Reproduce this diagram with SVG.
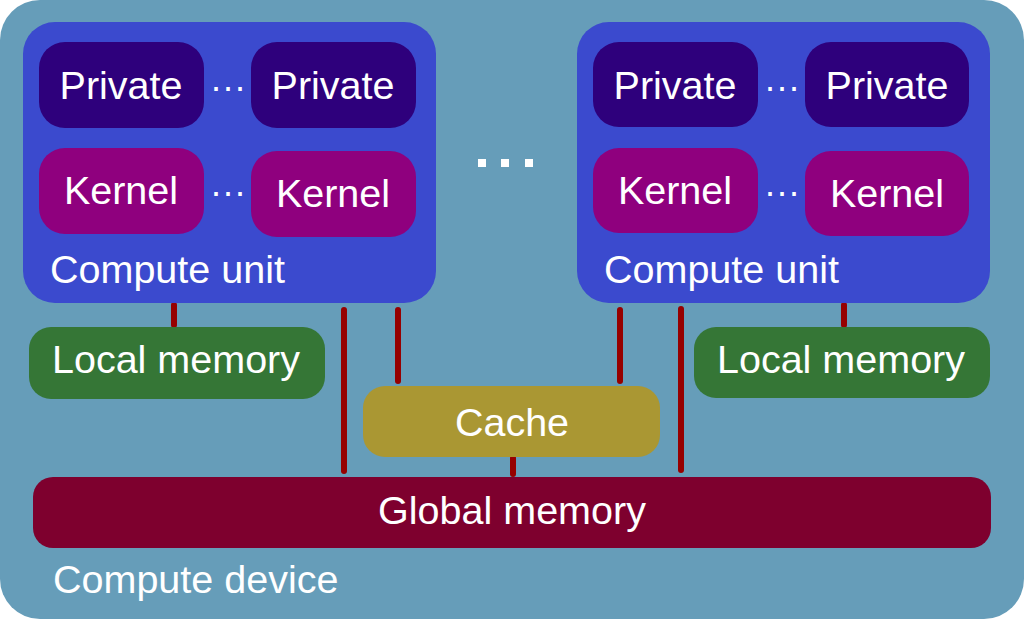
<svg xmlns="http://www.w3.org/2000/svg" width="1024" height="619" viewBox="0 0 1024 619">
<style>
text{font-family:"Liberation Sans",Arial,sans-serif;fill:#fff;font-size:39.5px}
.c{text-anchor:middle}
.dots{font-size:36px}
.priv{fill:#2e007c}
.kern{fill:#8f007e}
.cu{fill:#3b4ace}
.local{fill:#357636}
.cache{fill:#aa9733}
.glob{fill:#7e002e}
.ln{stroke:#960000;stroke-width:6;stroke-linecap:round;fill:none}
.dot{fill:#fff}
</style>
<g id="device">
<rect x="0" y="0" width="1024" height="619" rx="40" fill="#669db9"/>
<text x="53" y="593">Compute device</text>
</g>
<g id="connectors">
<line class="ln" x1="120" y1="130" x2="120" y2="146"/>
<line class="ln" x1="333" y1="130" x2="333" y2="148"/>
<line class="ln" x1="675" y1="129" x2="675" y2="145"/>
<line class="ln" x1="891" y1="132" x2="891" y2="148"/>
<line class="ln" x1="174" y1="305" x2="174" y2="325"/>
<line class="ln" x1="844" y1="305" x2="844" y2="325"/>
<line class="ln" x1="344" y1="310" x2="344" y2="471"/>
<line class="ln" x1="398" y1="310" x2="398" y2="381"/>
<line class="ln" x1="620" y1="310" x2="620" y2="381"/>
<line class="ln" x1="681" y1="309" x2="681" y2="470"/>
<line class="ln" x1="513" y1="458" x2="513" y2="474"/>
</g>
<g id="cu-left">
<rect class="cu" x="23" y="22" width="413" height="281" rx="32"/>
<text x="50" y="283">Compute unit</text>
<text x="228" y="99" class="c dots">···</text>
<text x="228" y="204" class="c dots">···</text>
</g>
<g id="private-l1"><rect class="priv" x="39" y="42" width="165" height="86" rx="26"/><text class="c" x="121" y="99">Private</text></g>
<g id="private-l2"><rect class="priv" x="251" y="42" width="165" height="86" rx="26"/><text class="c" x="333" y="99">Private</text></g>
<g id="kernel-l1"><rect class="kern" x="39" y="148" width="165" height="86" rx="26"/><text class="c" x="121" y="204">Kernel</text></g>
<g id="kernel-l2"><rect class="kern" x="251" y="151" width="165" height="86" rx="26"/><text class="c" x="333" y="207">Kernel</text></g>
<g id="cu-right">
<rect class="cu" x="577" y="22" width="413" height="281" rx="32"/>
<text x="604" y="283">Compute unit</text>
<text x="782" y="99" class="c dots">···</text>
<text x="782" y="204" class="c dots">···</text>
</g>
<g id="private-r1"><rect class="priv" x="593" y="42" width="165" height="85" rx="26"/><text class="c" x="675" y="99">Private</text></g>
<g id="private-r2"><rect class="priv" x="805" y="42" width="164" height="85" rx="26"/><text class="c" x="887" y="99">Private</text></g>
<g id="kernel-r1"><rect class="kern" x="593" y="148" width="165" height="85" rx="26"/><text class="c" x="675" y="204">Kernel</text></g>
<g id="kernel-r2"><rect class="kern" x="805" y="151" width="164" height="85" rx="26"/><text class="c" x="887" y="207">Kernel</text></g>
<g id="ellipsis">
<rect class="dot" x="478" y="159" width="8" height="8"/>
<rect class="dot" x="501" y="159" width="8" height="8"/>
<rect class="dot" x="525" y="159" width="8" height="8"/>
</g>
<g id="local-left"><rect class="local" x="29" y="327" width="296" height="72" rx="22"/><text class="c" x="176" y="373">Local memory</text></g>
<g id="local-right"><rect class="local" x="694" y="327" width="296" height="71" rx="22"/><text class="c" x="841" y="373">Local memory</text></g>
<g id="cache"><rect class="cache" x="363" y="386" width="297" height="71" rx="22"/><text class="c" x="512" y="436">Cache</text></g>
<g id="global"><rect class="glob" x="33" y="477" width="958" height="71" rx="20"/><text class="c" x="512" y="524">Global memory</text></g>
</svg>
